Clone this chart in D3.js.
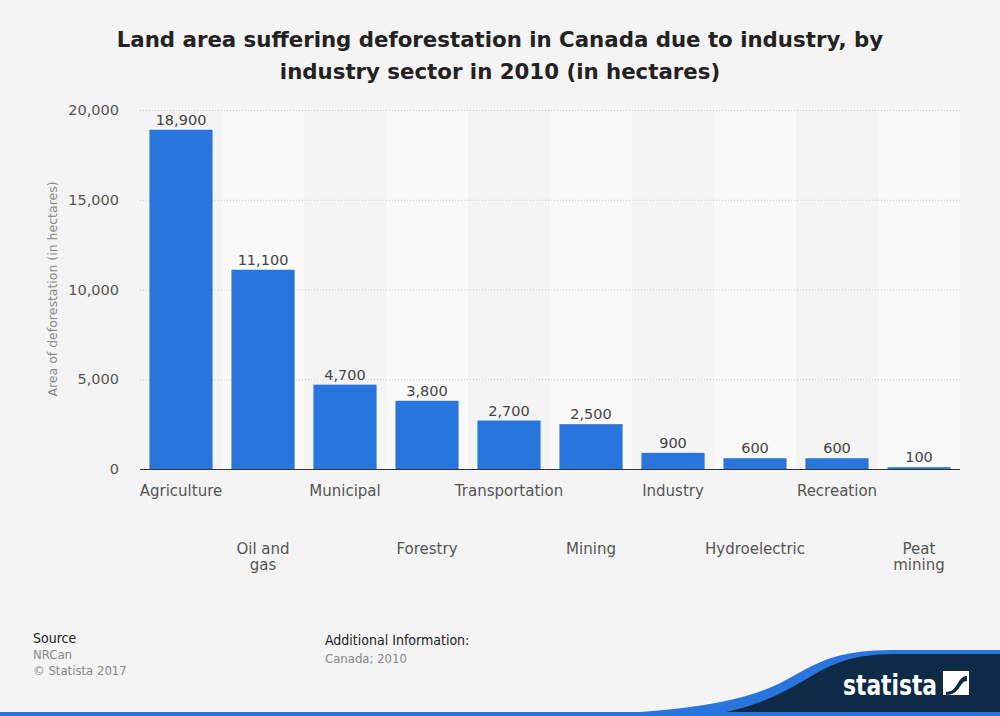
<!DOCTYPE html>
<html><head><meta charset="utf-8">
<script src="https://cdn.jsdelivr.net/npm/d3@7/dist/d3.min.js"></script>
<style>body{margin:0;background:#f4f4f4;}svg{display:block;font-family:"DejaVu Sans",sans-serif;}</style>
</head><body>
<svg id="c" width="1000" height="716"></svg>
<script>
const categories = ["Agriculture","Oil and gas","Municipal","Forestry","Transportation","Mining","Industry","Hydroelectric","Recreation","Peat mining"];
const values = [18900,11100,4700,3800,2700,2500,900,600,600,100];
const yTicks = [0,5000,10000,15000,20000];

const svg = d3.select("#c");
svg.append("rect").attr("width",1000).attr("height",716).attr("fill","#f4f4f4");

const x = d3.scaleBand().domain(categories).range([140,960]).paddingInner(0.23).paddingOuter(0.115);
const xb = d3.scaleBand().domain(categories).range([140,960]);
const y = d3.scaleLinear().domain([0,20000]).range([469,110]);

// alternating column backgrounds
svg.append("g").selectAll("rect").data(categories).join("rect")
  .attr("x",d=>xb(d)).attr("width",xb.bandwidth())
  .attr("y",110).attr("height",359)
  .attr("fill",(d,i)=>i%2? "#fafafa":"#f4f4f4");

// gridlines
svg.append("g").selectAll("line").data(yTicks.filter(t=>t>0)).join("line")
  .attr("x1",140).attr("x2",960).attr("y1",d=>y(d)+0.5).attr("y2",d=>y(d)+0.5)
  .attr("stroke","#c8c8c8").attr("stroke-dasharray","1,2");

// y axis
const ya = svg.append("g").attr("transform","translate(122,0)")
  .call(d3.axisLeft(y).tickValues(yTicks).tickSize(0).tickFormat(d3.format(",")));
ya.select(".domain").remove();
ya.selectAll("text").attr("font-size",14.5).attr("fill","#555").attr("font-family","DejaVu Sans");

svg.append("text").attr("transform","translate(57,289) rotate(-90)")
  .attr("text-anchor","middle").attr("font-size",12.5).attr("fill","#888")
  .text("Area of deforestation (in hectares)");

// bars
svg.append("g").selectAll("rect").data(values).join("rect")
  .attr("x",(d,i)=>x(categories[i])).attr("width",x.bandwidth())
  .attr("y",d=>y(d)).attr("height",d=>y(0)-y(d))
  .attr("fill","#2876dd");

// value labels
svg.append("g").selectAll("text").data(values).join("text")
  .attr("x",(d,i)=>x(categories[i])+x.bandwidth()/2).attr("y",d=>y(d)-5)
  .attr("text-anchor","middle").attr("font-size",14.5).attr("fill","#444")
  .text(d=>d3.format(",")(d));

// baseline
svg.append("line").attr("x1",140).attr("x2",960).attr("y1",469.5).attr("y2",469.5)
  .attr("stroke","#333").attr("stroke-width",1.2);

// x labels
const xl = svg.append("g");
categories.forEach((c,i)=>{
  const cx = xb(c)+xb.bandwidth()/2;
  const baseY = i%2 ? 554 : 496;
  let lines = [c];
  if(c==="Oil and gas") lines=["Oil and","gas"];
  if(c==="Peat mining") lines=["Peat","mining"];
  const t = xl.append("text").attr("text-anchor","middle").attr("font-size",15).attr("fill","#555");
  lines.forEach((l,j)=>t.append("tspan").attr("x",cx).attr("y",baseY+j*16).text(l));
});

// title
const title = svg.append("text").attr("text-anchor","middle").attr("font-size",21.3).attr("font-weight","bold").attr("fill","#222");
title.append("tspan").attr("x",500).attr("y",47).text("Land area suffering deforestation in Canada due to industry, by");
title.append("tspan").attr("x",500).attr("y",79).text("industry sector in 2010 (in hectares)");

// footer
const ff = "'DejaVu Sans Condensed', 'DejaVu Sans', sans-serif";
svg.append("text").attr("x",33).attr("y",643).attr("font-size",14).attr("fill","#222").attr("font-family",ff).text("Source");
svg.append("text").attr("x",33).attr("y",659).attr("font-size",13).attr("fill","#888").attr("font-family",ff).text("NRCan");
svg.append("text").attr("x",33).attr("y",675).attr("font-size",13).attr("fill","#888").attr("font-family",ff).text("© Statista 2017");
svg.append("text").attr("x",325).attr("y",645).attr("font-size",14).attr("fill","#222").attr("font-family",ff).text("Additional Information:");
svg.append("text").attr("x",325).attr("y",663).attr("font-size",13).attr("fill","#888").attr("font-family",ff).text("Canada; 2010");

// statista logo shape
svg.append("path").attr("d","M540,716 C690,713 750,702 795,675 C830,655 850,650 900,650 L1000,650 L1000,716 Z").attr("fill","#2876dd");
svg.append("path").attr("d","M700,716 C745,711 775,698 810,677 C840,659 860,654 900,654 L1000,654 L1000,716 Z").attr("fill","#0e2a47");
svg.append("rect").attr("x",0).attr("y",712).attr("width",1000).attr("height",4).attr("fill","#2876dd");
svg.append("text").attr("x",843).attr("y",695).attr("font-size",28).attr("font-weight","bold").attr("fill","#fff")
  .attr("font-family",ff).attr("textLength",94).attr("lengthAdjust","spacingAndGlyphs").text("statista");
svg.append("rect").attr("x",943).attr("y",671).attr("width",26).attr("height",24).attr("fill","#fff");
svg.append("path").attr("d","M946,692 C952,692 955,688 958,683 C961,678 963,676 967,676 L967,681 C963,681 962,684 959,688 C956,692 953,695 946,695 Z").attr("fill","#0e2a47");
</script>
</body></html>
